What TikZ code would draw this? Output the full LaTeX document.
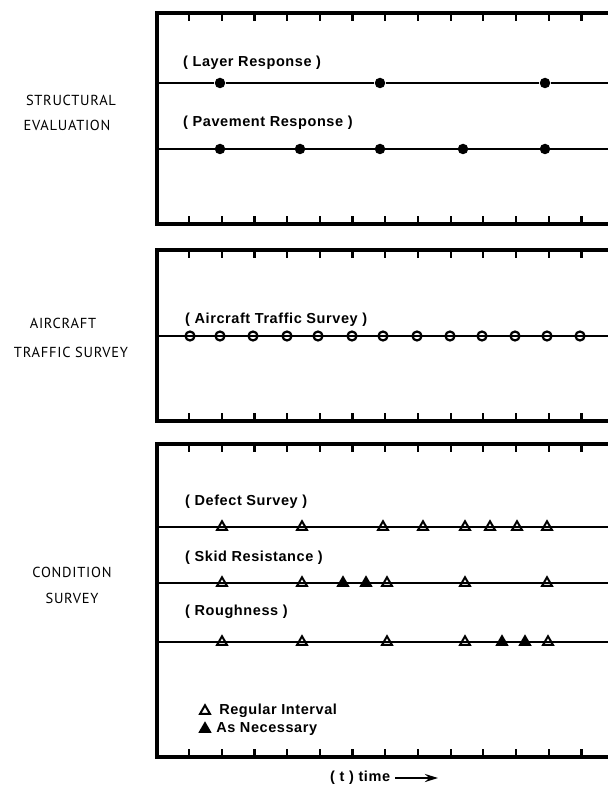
\documentclass[tikz,border=0pt]{standalone}
\usepackage{fontspec}
\setmainfont[LetterSpace=4]{Liberation Sans}
\newfontfamily\sidefont[LetterSpace=5]{PT Sans}
\usetikzlibrary{shapes.geometric, arrows.meta, positioning}
\tikzset{
  frame/.style={line width=3.2pt, line cap=rect, line join=miter},
  tickmark/.style={line width=2.2pt},
  dline/.style={line width=2pt},
  fdot/.style={circle, fill=black, minimum size=10.5pt, inner sep=0pt, outer sep=0.5pt},
  odot/.style={circle, draw=black, line width=2.2pt, fill=white, minimum size=9pt, inner sep=0pt, outer sep=2pt},
  otri/.style={regular polygon, regular polygon sides=3, draw=black, line width=2pt, fill=white,
    minimum size=11.5pt, inner sep=0pt, outer sep=1.5pt},
  ftri/.style={otri, fill=black},
  rowlbl/.style={font=\bfseries\fontsize{14.5}{16}\selectfont, anchor=west, inner sep=0pt},
  sidelbl/.style={font=\sidefont\fontsize{14.5}{16}\selectfont, inner sep=0pt},
}

\begin{document}
\begin{tikzpicture}[x=1pt, y=-1pt]
\useasboundingbox (0,0) rectangle (607,786);

%% ===== PANELS =====
\foreach \top/\bot in {13/224, 250/421, 444/757} {
  \draw[frame] (612,\top) -- (157,\top) -- (157,\bot) -- (612,\bot);
  \foreach \k in {0,...,12} {
    \draw[tickmark] (189+32.7*\k,\top) -- ++(0,8);
    \draw[tickmark] (189+32.7*\k,\bot) -- ++(0,-8);
  }
}

%% ===== SIDE LABELS =====
\node[sidelbl] (SE1) at (71,100) {STRUCTURAL};
\node[sidelbl] (SE2) at (67,125) {EVALUATION};
\node[sidelbl] (AT1) at (63,323) {AIRCRAFT};
\node[sidelbl] (AT2) at (71,352) {TRAFFIC SURVEY};
\node[sidelbl] (CS1) at (72,572) {CONDITION};
\node[sidelbl] (CS2) at (72,598) {SURVEY};

%% ===== STRUCTURAL EVALUATION =====
\node[rowlbl] (LRt) at (183,63) {( Layer Response )};
\coordinate (LRa) at (157,83);
\coordinate (LRb) at (612,83);
\foreach \x [count=\i] in {220,380,545} \node[fdot] (LR\i) at (\x,83) {};
\draw[dline] (LRa) -- (LR1) -- (LR2) -- (LR3) -- (LRb);

\node[rowlbl] (PRt) at (183,123) {( Pavement Response )};
\coordinate (PRa) at (157,149);
\coordinate (PRb) at (612,149);
\foreach \x [count=\i] in {220,300,380,463,545} \node[fdot] (PR\i) at (\x,149) {};
\draw[dline] (PRa) \foreach \i in {1,...,5} {-- (PR\i)} -- (PRb);

%% ===== AIRCRAFT TRAFFIC SURVEY =====
\node[rowlbl] (ATt) at (185,320) {( Aircraft Traffic Survey )};
\coordinate (ATa) at (157,336);
\coordinate (ATb) at (612,336);
\foreach \x [count=\i] in {190,220,253,287,318,352,383,417,450,482,515,547,580}
  \node[odot] (AT\i) at (\x,336) {};
\draw[dline] (ATa) \foreach \i in {1,...,13} {-- (AT\i)} -- (ATb);

%% ===== CONDITION SURVEY =====
\node[rowlbl] (DSt) at (185,502) {( Defect Survey )};
\coordinate (DSa) at (157,527);
\coordinate (DSb) at (612,527);
\foreach \x [count=\i] in {222,302,383,423,465,490,517,547}
  \node[otri] (DS\i) at (\x,527) {};
\draw[dline] (DSa) \foreach \i in {1,...,8} {-- (DS\i)} -- (DSb);

\node[rowlbl] (SRt) at (185,558) {( Skid Resistance )};
\coordinate (SRa) at (157,583);
\coordinate (SRb) at (612,583);
\foreach \x/\s [count=\i] in {222/otri,302/otri,343/ftri,366/ftri,387/otri,465/otri,547/otri}
  \node[\s] (SR\i) at (\x,583) {};
\draw[dline] (SRa) \foreach \i in {1,...,7} {-- (SR\i)} -- (SRb);

\node[rowlbl] (RGt) at (185,612) {( Roughness )};
\coordinate (RGa) at (157,642);
\coordinate (RGb) at (612,642);
\foreach \x/\s [count=\i] in {222/otri,302/otri,387/otri,465/otri,502/ftri,525/ftri,548/otri}
  \node[\s] (RG\i) at (\x,642) {};
\draw[dline] (RGa) \foreach \i in {1,...,7} {-- (RG\i)} -- (RGb);

%% ===== LEGEND =====
\node[otri] (LGo) at (205,711) {};
\node[rowlbl, right=9pt of LGo] (LGot) {Regular Interval};
\node[ftri] (LGf) at (205,729) {};
\node[rowlbl, right=6pt of LGf] (LGft) {As Necessary};

%% ===== TIME AXIS =====
\node[rowlbl] (TM) at (330,778) {( t ) time};
\coordinate (TMend) at (438,778);
\draw[-{Stealth[length=13pt,width=8pt]}, line width=2.4pt] ([xshift=5pt]TM.east) -- (TMend);
\end{tikzpicture}
\end{document}
